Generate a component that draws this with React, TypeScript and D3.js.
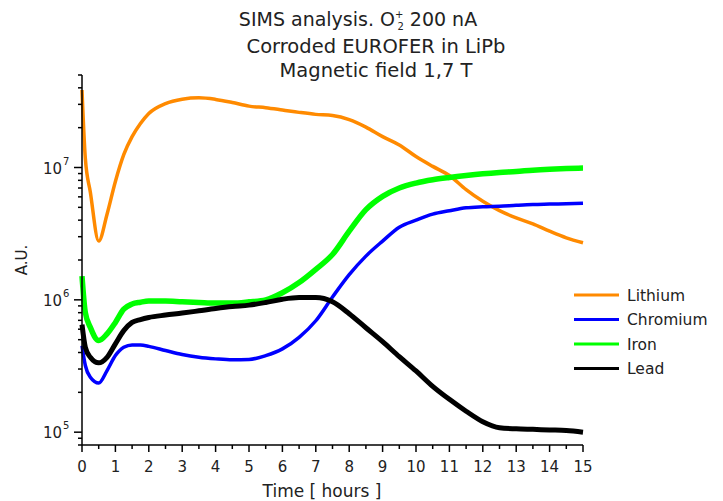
import React from 'react';
import * as d3 from 'd3';

// time axis (hours) shared by all four series
const hours = [0, 0.1, 0.25, 0.5, 0.75, 1, 1.25, 1.5, 1.75, 2, 2.5, 3, 3.5, 4, 4.5, 5, 5.5, 6, 6.5, 7, 7.5, 8, 8.5, 9, 9.5, 10, 10.5, 11, 11.5, 12, 12.5, 13, 13.5, 14, 14.5, 15];

const lithium = [3.85e7, 1.17e7, 6.5e6, 2.78e6, 4.44e6, 7.85e6, 1.25e7, 1.71e7, 2.15e7, 2.56e7, 3.04e7, 3.28e7, 3.36e7, 3.27e7, 3.1e7, 2.91e7, 2.83e7, 2.72e7, 2.61e7, 2.52e7, 2.47e7, 2.3e7, 2.02e7, 1.71e7, 1.48e7, 1.21e7, 1.02e7, 8.7e6, 6.8e6, 5.55e6, 4.72e6, 4.16e6, 3.75e6, 3.3e6, 2.94e6, 2.7e6];
const chromium = [4.5e5, 3.19e5, 2.6e5, 2.35e5, 2.92e5, 3.79e5, 4.38e5, 4.56e5, 4.55e5, 4.45e5, 4.14e5, 3.86e5, 3.68e5, 3.58e5, 3.52e5, 3.54e5, 3.79e5, 4.26e5, 5.21e5, 6.95e5, 1.05e6, 1.55e6, 2.14e6, 2.78e6, 3.54e6, 4.0e6, 4.44e6, 4.71e6, 4.96e6, 5.05e6, 5.1e6, 5.18e6, 5.25e6, 5.29e6, 5.33e6, 5.37e6];
const iron = [1.51e6, 8.0e5, 6.19e5, 4.92e5, 5.53e5, 6.75e5, 8.5e5, 9.3e5, 9.6e5, 9.8e5, 9.8e5, 9.66e5, 9.55e5, 9.45e5, 9.45e5, 9.66e5, 1.0e6, 1.13e6, 1.35e6, 1.7e6, 2.2e6, 3.3e6, 4.8e6, 6.05e6, 7.0e6, 7.63e6, 8.08e6, 8.41e6, 8.7e6, 8.96e6, 9.17e6, 9.33e6, 9.55e6, 9.71e6, 9.83e6, 9.9e6];
const lead = [6.5e5, 4.38e5, 3.68e5, 3.34e5, 3.68e5, 4.65e5, 5.85e5, 6.75e5, 7.1e5, 7.36e5, 7.67e5, 7.94e5, 8.26e5, 8.6e5, 8.9e5, 9.12e5, 9.55e5, 1.01e6, 1.04e6, 1.04e6, 9.66e5, 7.85e5, 6.15e5, 4.83e5, 3.72e5, 2.9e5, 2.22e5, 1.77e5, 1.44e5, 1.2e5, 1.08e5, 1.06e5, 1.05e5, 1.04e5, 1.03e5, 1.0e5];

const seriesNames = ['Lithium', 'Chromium', 'Iron', 'Lead'];
const seriesColors = ['#ff8a00', '#0000ff', '#00ff00', '#000000'];
const seriesWidths = [3.5, 3.5, 5.5, 5];

const xTicks = [0, 1, 2, 3, 4, 5, 6, 7, 8, 9, 10, 11, 12, 13, 14, 15];
const yMajor = [1e5, 1e6, 1e7];
const yExponents = ['5', '6', '7'];

const titleLines = ['Corroded EUROFER in LiPb', 'Magnetic field 1,7 T'];

const font = '"DejaVu Sans", sans-serif';

export default function App() {
  const W = 723;
  const H = 501;
  const x = d3.scaleLinear().domain([0, 15]).range([82, 583]);
  const y = d3.scaleLog().domain([8e4, 5e7]).range([445, 75]);

  const allSeries = [lithium, chromium, iron, lead];
  const line = d3.line<number>()
    .x((_, i) => x(hours[i]))
    .y(d => y(d))
    .curve(d3.curveMonotoneX);

  const xMinor = xTicks.slice(0, -1).map(t => t + 0.5);
  const yMinor = y.ticks().filter(v => !yMajor.includes(v));
  const axisY = y(8e4);

  return (
    <svg width={W} height={H} style={{ position: 'absolute', left: 0, top: 0, background: '#fff' }}>
      {/* title */}
      <text x={358} y={26} textAnchor="middle" fontFamily={font} fontSize={19} fill="#222">
        SIMS analysis. O
        <tspan fontSize={10} dy={-8}>+</tspan>
        <tspan fontSize={10} dx={-6} dy={12}>2</tspan>
        <tspan dy={-4}> 200 nA</tspan>
      </text>
      {titleLines.map((t, i) => (
        <text key={t} x={376} y={53 + i * 24} textAnchor="middle" fontFamily={font} fontSize={19.5} fill="#222">
          {t}
        </text>
      ))}

      {/* series */}
      {allSeries.map((s, i) => (
        <path
          key={seriesNames[i]}
          d={line(s) || ''}
          fill="none"
          stroke={seriesColors[i]}
          strokeWidth={seriesWidths[i]}
          strokeLinejoin="round"
        />
      ))}

      {/* y axis */}
      <line x1={x(0)} x2={x(0)} y1={y(5e7)} y2={axisY} stroke="#000" strokeWidth={1.5} />
      {yMinor.map(v => (
        <line key={'ym' + v} x1={x(0) - 4} x2={x(0)} y1={y(v)} y2={y(v)} stroke="#000" strokeWidth={1.5} />
      ))}
      {yMajor.map((v, i) => (
        <g key={'yM' + v}>
          <line x1={x(0) - 8} x2={x(0)} y1={y(v)} y2={y(v)} stroke="#000" strokeWidth={1.5} />
          <text x={x(0) - 20} y={y(v) + 6} textAnchor="end" fontFamily={font} fontSize={15} fill="#222">10</text>
          <text x={x(0) - 19} y={y(v) - 3} textAnchor="start" fontFamily={font} fontSize={10} fill="#222">{yExponents[i]}</text>
        </g>
      ))}
      <text transform={`translate(27,260) rotate(-90)`} textAnchor="middle" fontFamily={font} fontSize={15} fill="#222">A.U.</text>

      {/* x axis */}
      <line x1={x(0)} x2={x(15)} y1={axisY} y2={axisY} stroke="#000" strokeWidth={1.5} />
      {xMinor.map(t => (
        <line key={'xm' + t} x1={x(t)} x2={x(t)} y1={axisY} y2={axisY + 4} stroke="#000" strokeWidth={1.5} />
      ))}
      {xTicks.map(t => (
        <g key={'xM' + t}>
          <line x1={x(t)} x2={x(t)} y1={axisY} y2={axisY + 7} stroke="#000" strokeWidth={1.5} />
          <text x={x(t)} y={472} textAnchor="middle" fontFamily={font} fontSize={15} fill="#222">{t}</text>
        </g>
      ))}
      <text x={322} y={497} textAnchor="middle" fontFamily={font} fontSize={17} fill="#222">Time [ hours ]</text>

      {/* legend */}
      {seriesNames.map((n, i) => (
        <g key={'lg' + n}>
          <line x1={574} x2={619} y1={295 + i * 24.5} y2={295 + i * 24.5} stroke={seriesColors[i]} strokeWidth={3} />
          <text x={627} y={300.5 + i * 24.5} fontFamily={font} fontSize={15.5} fill="#222">{n}</text>
        </g>
      ))}
    </svg>
  );
}
